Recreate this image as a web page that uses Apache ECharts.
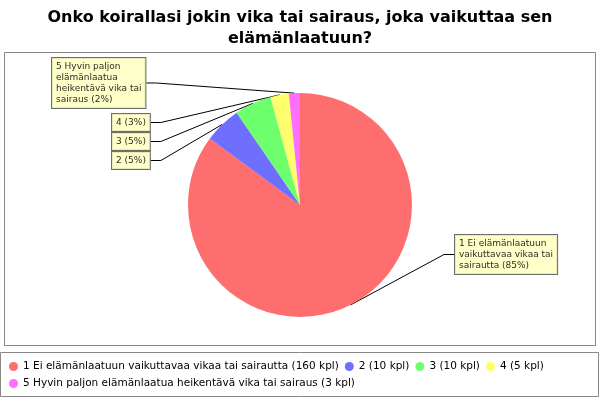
<!DOCTYPE html><html><head><meta charset="utf-8">
<script src="https://cdn.jsdelivr.net/npm/echarts@6/dist/echarts.min.js"></script>
<style>body{margin:0;background:#fff}#c{width:600px;height:400px}</style></head><body><div id="c"></div>
<script>
const categories=['1 Ei elämänlaatuun vaikuttavaa vikaa tai sairautta','2','3','4','5 Hyvin paljon elämänlaatua heikentävä vika tai sairaus'];
const values=[160,10,10,5,3];
const sliceLabels=['1 Ei elämänlaatuun\nvaikuttavaa vikaa tai\nsairautta (85%)','2 (5%)','3 (5%)','4 (3%)','5 Hyvin paljon\nelämänlaatua\nheikentävä vika tai\nsairaus (2%)'];
const colors=['#ff5555','#5555ff','#55ff55','#ffff55','#ff55ff'];
const labelPos=[[455,235],[112,152],[112,133],[112,114],[52,58]];
const chart=echarts.init(document.getElementById('c'));
chart.setOption({
 animation:false,
 title:{text:'Onko koirallasi jokin vika tai sairaus, joka vaikuttaa sen\nelämänlaatuun?',left:'center',top:2,textStyle:{fontSize:16,fontWeight:'bold',color:'#000',fontFamily:'DejaVu Sans',lineHeight:21}},
 graphic:[
  {type:'rect',shape:{x:4.5,y:52.5,width:591,height:293},style:{fill:'#fff',stroke:'#888'},z:-10},
  {type:'rect',shape:{x:0.5,y:352.5,width:598,height:44},style:{fill:'#fff',stroke:'#888'},z:-10}
 ],
 legend:{bottom:6,left:4,width:590,itemGap:6,icon:'circle',itemWidth:9,itemHeight:9,
   textStyle:{fontSize:10.5,fontFamily:'DejaVu Sans',color:'#000'},
   formatter:n=>{const i=categories.indexOf(n);return n+' ('+values[i]+' kpl)';}},
 series:[{type:'pie',center:[300,205],radius:[0,112],startAngle:90,clockwise:true,
   data:categories.map((c,i)=>({name:c,value:values[i],itemStyle:{color:colors[i],opacity:0.85},
     label:{formatter:sliceLabels[i]}})),
   label:{show:true,fontSize:9,fontFamily:'DejaVu Sans',color:'#000',backgroundColor:'#ffffc0',borderColor:'#555',borderWidth:1,padding:[3,4],lineHeight:11},
   labelLine:{show:true,lineStyle:{color:'#000',width:1},length:20,length2:10},
   labelLayout:p=>({x:labelPos[p.dataIndex][0],y:labelPos[p.dataIndex][1],align:'left',verticalAlign:'top'})
 }]
});
</script></body></html>
